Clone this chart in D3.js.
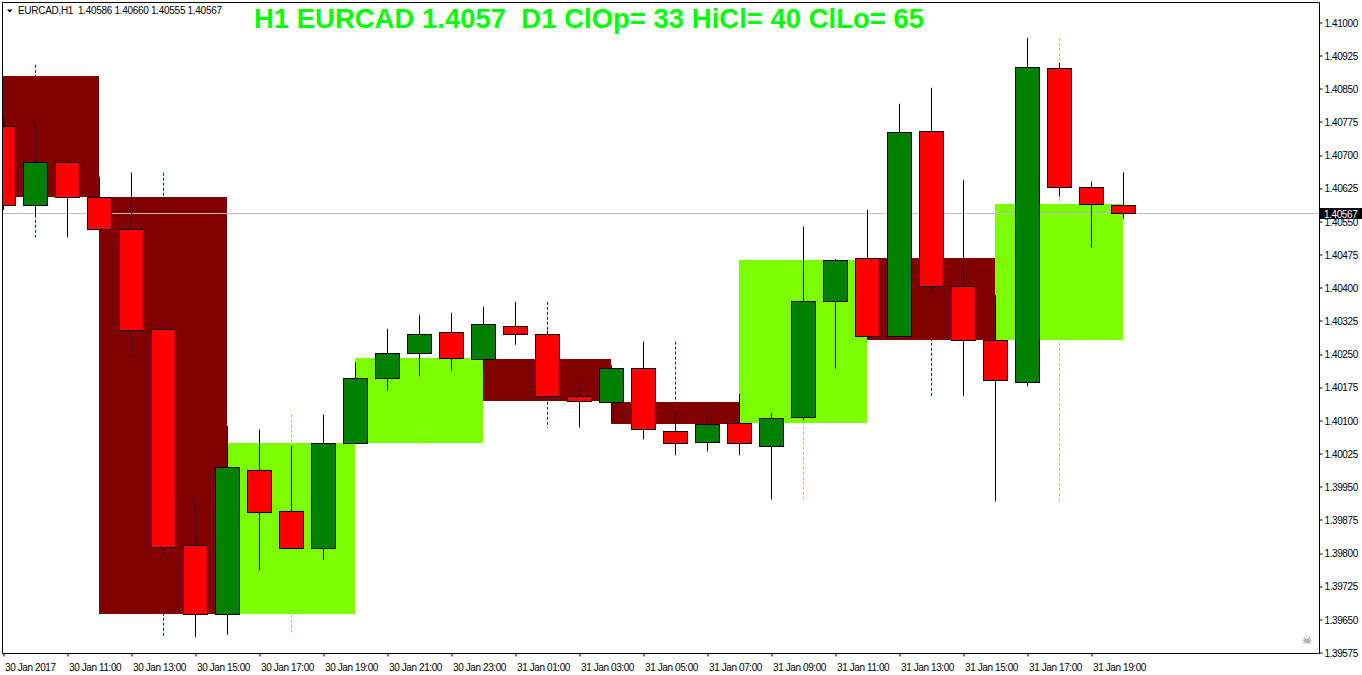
<!DOCTYPE html>
<html>
<head>
<meta charset="utf-8">
<script src="https://cdn.jsdelivr.net/npm/d3@7"></script>
<style>
  html, body { margin: 0; padding: 0; background: #fff; }
  svg { display: block; }
  .ax text { font-family: "Liberation Sans", Arial, sans-serif; font-size: 10px; letter-spacing: -0.4px; fill: #000; }
</style>
</head>
<body>
<svg id="chart" width="1362" height="675"></svg>
<script>
// H1 candles
var times = [
  "2017-01-30 09:00","2017-01-30 10:00","2017-01-30 11:00","2017-01-30 12:00","2017-01-30 13:00",
  "2017-01-30 14:00","2017-01-30 15:00","2017-01-30 16:00","2017-01-30 17:00","2017-01-30 18:00",
  "2017-01-30 19:00","2017-01-30 20:00","2017-01-30 21:00","2017-01-30 22:00","2017-01-30 23:00",
  "2017-01-31 00:00","2017-01-31 01:00","2017-01-31 02:00","2017-01-31 03:00","2017-01-31 04:00",
  "2017-01-31 05:00","2017-01-31 06:00","2017-01-31 07:00","2017-01-31 08:00","2017-01-31 09:00",
  "2017-01-31 10:00","2017-01-31 11:00","2017-01-31 12:00","2017-01-31 13:00","2017-01-31 14:00",
  "2017-01-31 15:00","2017-01-31 16:00","2017-01-31 17:00","2017-01-31 18:00","2017-01-31 19:00",
  "2017-01-31 20:00"
];
var opens = [1.40764,1.40586,1.40683,1.40605,1.40532,1.40306,1.39818,1.39660,1.39987,1.39895,
             1.39811,1.40048,1.40195,1.40252,1.40299,1.40238,1.40313,1.40295,1.40155,1.40141,
             1.40218,1.40075,1.40051,1.40093,1.40041,1.40107,1.40369,1.40466,1.40290,1.40753,
             1.40403,1.40281,1.40186,1.40895,1.40627,1.40586];
var highs = [1.40784,1.40774,1.40685,1.40650,1.40659,1.40306,1.39918,1.40086,1.40078,1.40041,
             1.40112,1.40230,1.40306,1.40336,1.40342,1.40356,1.40367,1.40302,1.40182,1.40224,
             1.40277,1.40124,1.40115,1.40159,1.40115,1.40537,1.40464,1.40575,1.40815,1.40851,
             1.40643,1.40382,1.40964,1.40908,1.40639,1.40660];
var lows  = [1.40575,1.40560,1.40513,1.40526,1.40246,1.39796,1.39609,1.39614,1.39760,1.39809,
             1.39783,1.40045,1.40167,1.40199,1.40212,1.40214,1.40270,1.40151,1.40083,1.40099,
             1.40056,1.40020,1.40029,1.40020,1.39920,1.40099,1.40216,1.40288,1.40288,1.40382,
             1.40154,1.39916,1.40176,1.40605,1.40490,1.40555];
var closes = [1.40585,1.40683,1.40605,1.40531,1.40304,1.39812,1.39662,1.39994,1.39892,1.39811,
              1.40048,1.40195,1.40252,1.40295,1.40240,1.40317,1.40295,1.40154,1.40143,1.40218,
              1.40080,1.40048,1.40091,1.40048,1.40105,1.40369,1.40462,1.40290,1.40751,1.40403,
              1.40281,1.40191,1.40898,1.40627,1.40588,1.40567];

// H4 boxes
var h4Times = ["2017-01-30 08:00","2017-01-30 12:00","2017-01-30 16:00","2017-01-30 20:00",
               "2017-01-31 00:00","2017-01-31 04:00","2017-01-31 08:00","2017-01-31 12:00","2017-01-31 16:00"];
var h4Open  = [1.40878,1.40605,1.39660,1.40048,1.40238,1.40141,1.40093,1.40466,1.40281];
var h4High  = [1.40903,1.40659,1.40112,1.40342,1.40367,1.40277,1.40537,1.40851,1.40964];
var h4Low   = [1.40513,1.39609,1.39614,1.40045,1.40083,1.40020,1.39920,1.40154,1.39916];
var h4Close = [1.40605,1.39662,1.40048,1.40240,1.40143,1.40091,1.40462,1.40281,1.40588];

// axes
var yTicks = [1.41000,1.40925,1.40850,1.40775,1.40700,1.40625,1.40550,1.40475,1.40400,1.40325,
              1.40250,1.40175,1.40100,1.40025,1.39950,1.39875,1.39800,1.39725,1.39650,1.39575];
var xTickTimes = ["2017-01-30 09:00","2017-01-30 11:00","2017-01-30 13:00","2017-01-30 15:00",
                  "2017-01-30 17:00","2017-01-30 19:00","2017-01-30 21:00","2017-01-30 23:00",
                  "2017-01-31 01:00","2017-01-31 03:00","2017-01-31 05:00","2017-01-31 07:00",
                  "2017-01-31 09:00","2017-01-31 11:00","2017-01-31 13:00","2017-01-31 15:00",
                  "2017-01-31 17:00","2017-01-31 19:00"];
var xTickLabels = ["30 Jan 2017","30 Jan 11:00","30 Jan 13:00","30 Jan 15:00","30 Jan 17:00",
                   "30 Jan 19:00","30 Jan 21:00","30 Jan 23:00","31 Jan 01:00","31 Jan 03:00",
                   "31 Jan 05:00","31 Jan 07:00","31 Jan 09:00","31 Jan 11:00","31 Jan 13:00",
                   "31 Jan 15:00","31 Jan 17:00","31 Jan 19:00"];

var symbolInfo = "EURCAD,H1  1.40586 1.40660 1.40555 1.40567";
var titleText = "H1 EURCAD 1.4057  D1 ClOp= 33 HiCl= 40 ClLo= 65";
var lastPrice = 1.40567;

var parse = d3.timeParse("%Y-%m-%d %H:%M");
var HOUR = 3600 * 1000;

var plot = {left: 3, right: 1319, top: 3, bottom: 653};
var svg = d3.select("#chart");

var x = d3.scaleTime()
  .domain([parse(times[0]), parse(times[times.length - 1])])
  .range([3, 1123]);
var y = d3.scaleLinear()
  .domain([1.39575, 1.41000])
  .range([652, 22]);

var candles = times.map(function(t, i) {
  return {t: parse(t), o: opens[i], h: highs[i], l: lows[i], c: closes[i]};
});
var boxes = h4Times.map(function(t, i) {
  return {t: parse(t), o: h4Open[i], h: h4High[i], l: h4Low[i], c: h4Close[i]};
});

svg.append("defs").append("clipPath").attr("id", "clip")
  .append("rect")
  .attr("x", plot.left).attr("y", plot.top)
  .attr("width", plot.right - plot.left).attr("height", plot.bottom - plot.top);

var g = svg.append("g").attr("clip-path", "url(#clip)");

function boxColor(d) { return d.c >= d.o ? "#7CFC00" : "#800000"; }

// H4 wicks (dashed)
g.append("g").selectAll("line")
  .data(boxes).enter().append("line")
    .attr("x1", function(d) { return Math.round(x(new Date(+d.t + 2 * HOUR))) + 0.5; })
    .attr("x2", function(d) { return Math.round(x(new Date(+d.t + 2 * HOUR))) + 0.5; })
    .attr("y1", function(d) { return y(d.h); })
    .attr("y2", function(d) { return y(d.l); })
    .attr("stroke", boxColor)
    .attr("stroke-width", 1)
    .attr("stroke-dasharray", "3,2");

// H4 bodies
g.append("g").selectAll("rect")
  .data(boxes).enter().append("rect")
    .attr("x", function(d) { return Math.round(x(d.t)); })
    .attr("width", function(d) { return Math.round(x(new Date(+d.t + 4 * HOUR))) - Math.round(x(d.t)); })
    .attr("y", function(d) { return Math.round(y(Math.max(d.o, d.c))); })
    .attr("height", function(d) { return Math.round(y(Math.min(d.o, d.c))) - Math.round(y(Math.max(d.o, d.c))); })
    .attr("fill", boxColor);

// last price line
g.append("line")
  .attr("x1", plot.left).attr("x2", plot.right)
  .attr("y1", Math.round(y(lastPrice)) + 0.5).attr("y2", Math.round(y(lastPrice)) + 0.5)
  .attr("stroke", "#C0C0C0").attr("stroke-width", 1);

// H1 candles
var cg = g.append("g").selectAll("g")
  .data(candles).enter().append("g");

cg.append("line")
  .attr("x1", function(d) { return Math.round(x(d.t)) + 0.5; })
  .attr("x2", function(d) { return Math.round(x(d.t)) + 0.5; })
  .attr("y1", function(d) { return y(d.h); })
  .attr("y2", function(d) { return y(d.l); })
  .attr("stroke", "#000").attr("stroke-width", 1);

cg.append("rect")
  .attr("x", function(d) { return Math.round(x(d.t)) - 11.5; })
  .attr("width", 24)
  .attr("y", function(d) { return Math.round(y(Math.max(d.o, d.c))) + 0.5; })
  .attr("height", function(d) { return Math.max(1, Math.round(y(Math.min(d.o, d.c))) - Math.round(y(Math.max(d.o, d.c)))); })
  .attr("fill", function(d) { return d.c >= d.o ? "#008000" : "#FF0000"; })
  .attr("stroke", "#000").attr("stroke-width", 1);

// frame
svg.append("path")
  .attr("d", "M2.5,653.5 V2.5 H1319.5 V653.5 H2.5")
  .attr("fill", "none").attr("stroke", "#000").attr("stroke-width", 1);

// price axis
var yAxis = svg.append("g").attr("class", "ax")
  .attr("transform", "translate(1319.5,0)")
  .call(d3.axisRight(y).tickValues(yTicks).tickSize(3).tickFormat(d3.format(".5f")));
yAxis.select(".domain").remove();
yAxis.selectAll("text").attr("x", 5).attr("dy", "0.42em");
yAxis.selectAll("line").attr("stroke", "#000")
  .attr("transform", function(d) { return "translate(0," + (Math.round(y(d)) + 0.5 - y(d)) + ")"; });

// time axis
var xAxis = svg.append("g").attr("class", "ax")
  .attr("transform", "translate(0.5,653.5)")
  .call(d3.axisBottom(x).tickValues(xTickTimes.map(parse)).tickSize(3)
    .tickFormat(function(d, i) { return xTickLabels[i]; }));
xAxis.select(".domain").remove();
xAxis.selectAll("text").attr("text-anchor", "start").attr("x", 1).attr("y", 17).attr("dy", 0);
xAxis.selectAll("line").attr("stroke", "#000");

// last price label
var ly = Math.round(y(lastPrice));
svg.append("rect")
  .attr("x", 1320).attr("y", ly - 5).attr("width", 42).attr("height", 11)
  .attr("fill", "#000");
svg.append("text")
  .attr("x", 1324).attr("y", ly + 4.5)
  .attr("font-family", "Liberation Sans, Arial, sans-serif")
  .attr("font-size", "10px").attr("letter-spacing", "-0.4px")
  .attr("fill", "#fff")
  .text(d3.format(".5f")(lastPrice));

// header info
svg.append("path").attr("d", "M7,9.5 L12.5,9.5 L9.75,12.5 Z").attr("fill", "#000");
svg.append("text")
  .attr("x", 18).attr("y", 14)
  .attr("font-family", "Liberation Sans, Arial, sans-serif")
  .attr("font-size", "10px").attr("letter-spacing", "-0.3px")
  .style("white-space", "pre")
  .attr("fill", "#000")
  .text(symbolInfo);

// big title
svg.append("text")
  .attr("x", 589).attr("y", 28)
  .attr("text-anchor", "middle")
  .attr("font-family", "Liberation Sans, Arial, sans-serif")
  .attr("font-weight", "bold")
  .attr("font-size", "27.5px")
  .style("white-space", "pre")
  .attr("fill", "#00FF00")
  .text(titleText);

// expert icon
svg.append("text")
  .attr("x", 1307).attr("y", 644)
  .attr("text-anchor", "middle")
  .attr("font-family", "DejaVu Sans, sans-serif")
  .attr("font-size", "12px")
  .attr("fill", "#777")
  .text("\u2620");
</script>
</body>
</html>
